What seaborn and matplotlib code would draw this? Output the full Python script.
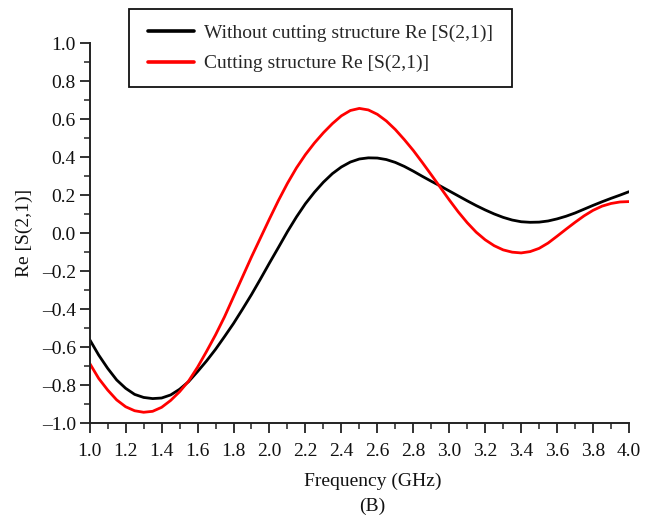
import numpy as np
import pandas as pd
import matplotlib
matplotlib.use("Agg")
import matplotlib.pyplot as plt
from matplotlib.ticker import MultipleLocator, FuncFormatter
from matplotlib.lines import Line2D
from matplotlib.patches import Rectangle
import seaborn as sns

freq = [1.00, 1.05, 1.10, 1.15, 1.20, 1.25, 1.30, 1.35, 1.40, 1.45,
        1.50, 1.55, 1.60, 1.65, 1.70, 1.75, 1.80, 1.85, 1.90, 1.95,
        2.00, 2.05, 2.10, 2.15, 2.20, 2.25, 2.30, 2.35, 2.40, 2.45,
        2.50, 2.55, 2.60, 2.65, 2.70, 2.75, 2.80, 2.85, 2.90, 2.95,
        3.00, 3.05, 3.10, 3.15, 3.20, 3.25, 3.30, 3.35, 3.40, 3.45,
        3.50, 3.55, 3.60, 3.65, 3.70, 3.75, 3.80, 3.85, 3.90, 3.95, 4.00]
without_cut = [-0.560, -0.641, -0.711, -0.772, -0.816, -0.848, -0.864, -0.870, -0.867, -0.851,
               -0.821, -0.781, -0.728, -0.672, -0.611, -0.544, -0.475, -0.400, -0.323, -0.241,
               -0.157, -0.075, 0.008, 0.085, 0.155, 0.215, 0.268, 0.313, 0.348, 0.374,
               0.390, 0.396, 0.395, 0.387, 0.372, 0.351, 0.326, 0.299, 0.273, 0.248,
               0.222, 0.196, 0.170, 0.145, 0.122, 0.101, 0.083, 0.069, 0.060, 0.057,
               0.058, 0.064, 0.075, 0.089, 0.106, 0.126, 0.146, 0.165, 0.183, 0.200, 0.218]
with_cut = [-0.685, -0.764, -0.825, -0.877, -0.913, -0.934, -0.942, -0.937, -0.916, -0.880,
            -0.834, -0.778, -0.705, -0.622, -0.535, -0.440, -0.335, -0.230, -0.125, -0.025,
            0.075, 0.172, 0.262, 0.343, 0.413, 0.474, 0.528, 0.576, 0.617, 0.645,
            0.656, 0.648, 0.625, 0.590, 0.545, 0.492, 0.435, 0.372, 0.307, 0.241,
            0.175, 0.112, 0.055, 0.005, -0.035, -0.066, -0.088, -0.100, -0.104, -0.097,
            -0.080, -0.052, -0.016, 0.021, 0.057, 0.091, 0.120, 0.142, 0.156, 0.164, 0.166]
series_names = ["Without cutting structure Re [S(2,1)]", "Cutting structure Re [S(2,1)]"]
series_colors = ["#000000", "#ff0000"]
x_label = "Frequency (GHz)"
y_label = "Re [S(2,1)]"
caption = "(B)"

sns.set_style("ticks")
plt.rcParams["font.family"] = ["Liberation Serif", "DejaVu Serif"]

df = pd.DataFrame({
    "freq": freq * 2,
    "val": without_cut + with_cut,
    "series": [series_names[0]] * len(freq) + [series_names[1]] * len(freq),
})

W, H = 657, 521
fig = plt.figure(figsize=(W / 100, H / 100), dpi=100)
ax = fig.add_axes([89.7 / W, 1 - 423.3 / H, (629 - 89.7) / W, (423.3 - 43) / H])

sns.lineplot(data=df, x="freq", y="val", hue="series", hue_order=series_names,
             palette=series_colors, linewidth=2.0, ax=ax, legend=False, sort=False)

ax.set_xlim(1.0, 4.0)
ax.set_ylim(-1.0, 1.0)
ax.xaxis.set_major_locator(MultipleLocator(0.2))
ax.xaxis.set_minor_locator(MultipleLocator(0.1))
ax.yaxis.set_major_locator(MultipleLocator(0.2))
ax.yaxis.set_minor_locator(MultipleLocator(0.1))
ax.xaxis.set_major_formatter(FuncFormatter(lambda v, p: f"{v:.1f}"))
ax.yaxis.set_major_formatter(FuncFormatter(
    lambda v, p: ("\u2013" if v < -1e-9 else "") + f"{abs(v):.1f}"))

sns.despine(ax=ax)
for s in ["left", "bottom"]:
    ax.spines[s].set_linewidth(1.4)
    ax.spines[s].set_color("#222222")
ax.tick_params(which="major", direction="out", length=7, width=1.3, colors="#222222",
               labelsize=14, labelcolor="#111111")
ax.tick_params(which="minor", direction="out", length=4, width=1.1, colors="#222222")
ax.tick_params(axis="x", pad=7)
ax.tick_params(axis="y", pad=3)

ax.set_xlabel(x_label, fontsize=14, color="#111111")
ax.xaxis.set_label_coords((372.5 - 89.7) / 539.3, (423.3 - 473) / 380.3)
ax.set_ylabel(y_label, fontsize=14, color="#111111", labelpad=6)

fig.text(372.5 / W, 1 - 506 / H, caption, ha="center", va="center", fontsize=14, color="#111111")

# legend frame
fig.add_artist(Rectangle((129 / W, 1 - 86.7 / H), (512 - 129) / W, (86.7 - 9.3) / H,
                         transform=fig.transFigure, facecolor="white", edgecolor="#111111",
                         linewidth=1.3, zorder=5))
handles = [Line2D([], [], color=c, linewidth=2.6) for c in series_colors]
leg = fig.legend(handles, series_names, loc="upper left",
                 bbox_to_anchor=(147.7 / W, 1 - 24 / H), bbox_transform=fig.transFigure,
                 fontsize=14, frameon=False, borderaxespad=0, borderpad=0,
                 handlelength=2.4, handletextpad=0.5, labelspacing=0.67)
leg.set_zorder(6)

fig.savefig("out.png", dpi=100)
